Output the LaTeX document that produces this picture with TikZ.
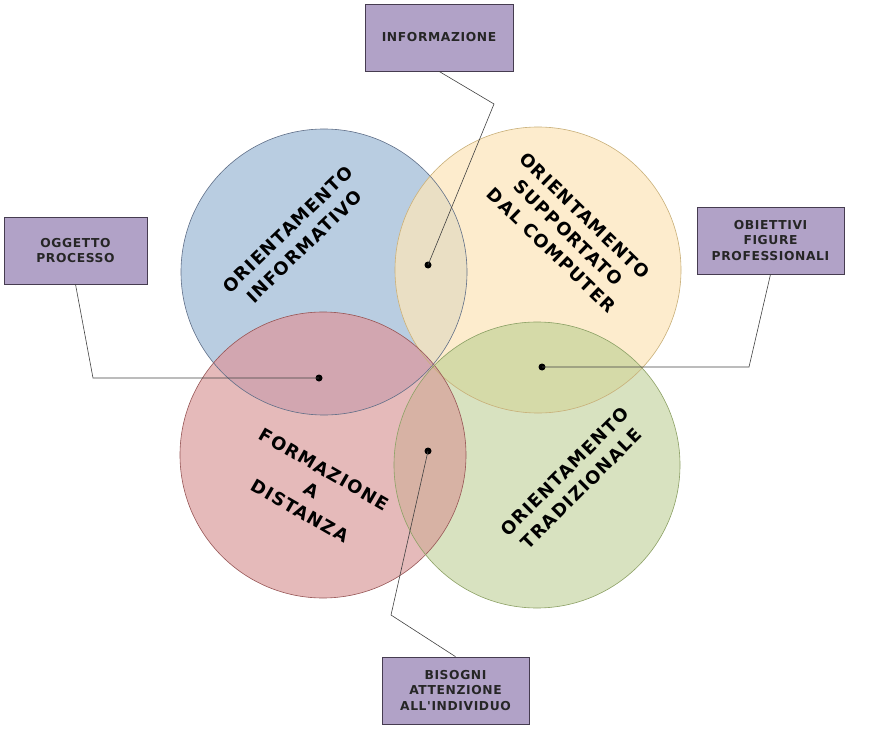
\documentclass[tikz,border=0pt]{standalone}
\usepackage{fontspec}
\setmainfont{DejaVu Sans}
\newfontfamily\widefont[LetterSpace=7]{DejaVu Sans}
\newfontfamily\boxfont[LetterSpace=5]{DejaVu Sans}
\definecolor{cblue}{RGB}{185,205,225}
\definecolor{cyel}{RGB}{253,236,205}
\definecolor{cred}{RGB}{229,186,186}
\definecolor{cgreen}{RGB}{216,226,192}
\definecolor{cby}{RGB}{234,223,196}
\definecolor{cbr}{RGB}{210,166,176}
\definecolor{cyg}{RGB}{213,218,168}
\definecolor{crg}{RGB}{215,178,164}
\definecolor{lblue}{RGB}{95,110,135}
\definecolor{lyel}{RGB}{200,175,120}
\definecolor{lred}{RGB}{150,85,85}
\definecolor{lgreen}{RGB}{140,160,100}
\definecolor{boxfill}{RGB}{177,162,199}
\definecolor{boxline}{RGB}{70,60,80}
\tikzset{
  callout/.style={draw=boxline,line width=0.7pt,fill=boxfill,minimum width=148pt,minimum height=67pt,inner sep=2pt,align=center,font=\boxfont\fontsize{12.3}{15.5}\selectfont\bfseries,text=black!85},
  circtext/.style={align=center,font=\widefont\fontsize{17.8}{24}\selectfont\bfseries,text=black},
  leader/.style={draw=black!75,line width=0.6pt},
  dotmark/.style={circle,fill=black,inner sep=0pt,minimum size=7pt}
}
\begin{document}
\begin{tikzpicture}[x=1pt,y=-1pt]
\useasboundingbox (0,0) rectangle (885,743);
\def\rr{143}
\coordinate (B) at (324,272);
\coordinate (Y) at (538,270);
\coordinate (R) at (323,455);
\coordinate (G) at (537,465);
% fills
\fill[cblue] (B) circle (\rr);
\fill[cyel] (Y) circle (\rr);
\fill[cred] (R) circle (\rr);
\fill[cgreen] (G) circle (\rr);
\begin{scope}\clip (B) circle (\rr); \fill[cby] (Y) circle (\rr); \end{scope}
\begin{scope}\clip (B) circle (\rr); \fill[cbr] (R) circle (\rr); \end{scope}
\begin{scope}\clip (Y) circle (\rr); \fill[cyg] (G) circle (\rr); \end{scope}
\begin{scope}\clip (R) circle (\rr); \fill[crg] (G) circle (\rr); \end{scope}
% outlines
\draw[lblue,line width=0.6pt] (B) circle (\rr);
\draw[lyel,line width=0.6pt] (Y) circle (\rr);
\draw[lred,line width=0.6pt] (R) circle (\rr);
\draw[lgreen,line width=0.6pt] (G) circle (\rr);
% circle texts
\node[circtext,rotate=44] (tb) at (296,238) {ORIENTAMENTO\\INFORMATIVO};
\node[circtext,rotate=-44] (ty) at (568,233) {ORIENTAMENTO\\SUPPORTATO\\DAL COMPUTER};
\node[circtext,rotate=-30] (tr) at (312,490) {FORMAZIONE\\A\\DISTANZA};
\node[circtext,rotate=45] (tg) at (573,480) {ORIENTAMENTO\\TRADIZIONALE};
% callouts
\node[callout] (inf) at (439,37.5) {INFORMAZIONE};
\node[callout,minimum width=143pt] (ogg) at (75.5,250.5) {OGGETTO\\PROCESSO};
\node[callout,minimum width=147pt] (obi) at (770.5,240.5) {OBIETTIVI\\FIGURE\\PROFESSIONALI};
\node[callout,minimum width=147pt] (bis) at (455.5,690.5) {BISOGNI\\ATTENZIONE\\ALL'INDIVIDUO};
% dots
\node[dotmark] (d1) at (428,265) {};
\node[dotmark] (d2) at (319,378) {};
\node[dotmark] (d3) at (542,367) {};
\node[dotmark] (d4) at (428,451) {};
\coordinate (k1) at (494,104);
\coordinate (k2) at (93,378);
\coordinate (k3) at (749,367);
\coordinate (k4) at (391,615);
\draw[leader] (inf.south) -- (k1) -- (d1.center);
\draw[leader] (ogg.south) -- (k2) -- (d2.center);
\draw[leader] (obi.south) -- (k3) -- (d3.center);
\draw[leader] (bis.north) -- (k4) -- (d4.center);
\end{tikzpicture}
\end{document}
